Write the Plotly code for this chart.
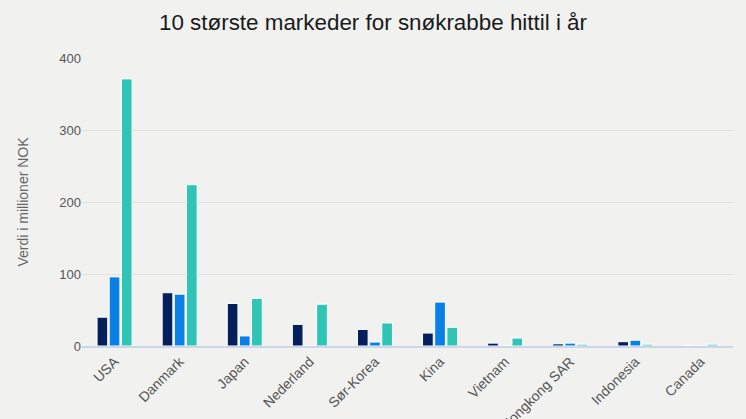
import plotly.graph_objects as go

categories = ["USA", "Danmark", "Japan", "Nederland", "Sør-Korea", "Kina",
              "Vietnam", "Hongkong SAR", "Indonesia", "Canada"]
series_a = [40, 74, 59, 30, 23, 18, 4, 3, 6, 0]
series_b = [96, 72, 14, 0, 5.5, 61, 0, 4, 8, 0]
series_c = [371, 224, 66, 58, 32, 26, 11, 2.5, 2.5, 2.5]
y_ticks = [0, 100, 200, 300, 400]

colors = ["#031f5c", "#0a7fe6", "#2ec4b6"]

fig = go.Figure()
for vals, col in zip([series_a, series_b, series_c], colors):
    fig.add_trace(go.Bar(x=categories, y=vals, marker=dict(color=col, line=dict(color="white", width=1))))

font = "Liberation Sans, Arial, sans-serif"
fig.update_layout(
    width=746, height=419,
    paper_bgcolor="#f1f2f0", plot_bgcolor="#f1f2f0",
    margin=dict(l=82, r=13, t=58, b=73),
    showlegend=False,
    barmode="group", bargap=0.44, bargroupgap=0.12,
    title=dict(text="10 største markeder for snøkrabbe hittil i år", x=0.5, xanchor="center",
               y=0.947, yanchor="middle", font=dict(family=font, size=22.4, color="#1a1a1a")),
    font=dict(family=font),
)
fig.update_xaxes(tickangle=-45, tickfont=dict(size=14, color="#555555"), automargin=False,
                 showline=True, linecolor="#ccd6eb", linewidth=2, ticks="", showgrid=False)
fig.update_yaxes(range=[0, 400], tickvals=y_ticks, tickfont=dict(size=13, color="#555555"),
                 gridcolor="#e2e3e1", gridwidth=1, zeroline=False, automargin=False,
                 title=dict(text="Verdi i millioner NOK", font=dict(size=14, color="#666666"), standoff=27),
                 ticks="", ticklen=0)
fig.write_html("out.html", config={"displayModeBar": False},
               post_script="document.body.style.margin='0';document.body.style.background='#f1f2f0';")
